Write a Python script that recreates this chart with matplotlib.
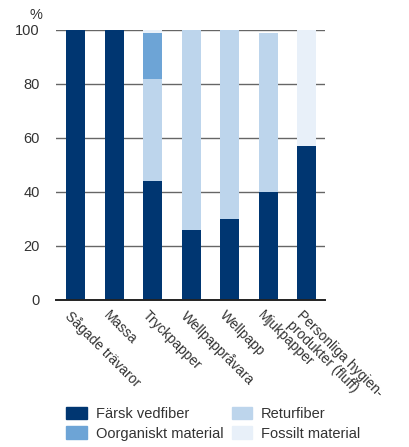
import numpy as np
import matplotlib.pyplot as plt
from matplotlib.patches import Patch

categories = ['Sågade trävaror', 'Massa', 'Tryckpapper', 'Wellpappråvara',
              'Wellpapp', 'Mjukpapper', 'Personliga hygien-\nprodukter (fluff)']
farsk = [100, 100, 44, 26, 30, 40, 57]
retur = [0, 0, 38, 74, 70, 59, 0]
oorganiskt = [0, 0, 17, 0, 0, 0, 0]
fossilt = [0, 0, 1, 0, 0, 0, 43]

series = [
    ('Färsk vedfiber', farsk, '#003671'),
    ('Returfiber', retur, '#bdd5ec'),
    ('Oorganiskt material', oorganiskt, '#6da4d6'),
    ('Fossilt material', fossilt, '#e8f0f9'),
]

plt.rcParams['font.family'] = ['Liberation Sans', 'DejaVu Sans']
text_col = '#333333'

fig = plt.figure(figsize=(4.10, 4.47), dpi=100)
ax = fig.add_axes([0.137, 0.329, 0.656, 0.604])

x = np.arange(len(categories))
bottom = np.zeros(len(categories))
for name, vals, col in series:
    ax.bar(x, vals, width=0.49, bottom=bottom, color=col, zorder=3)
    bottom += np.array(vals)

ax.set_xlim(-0.506, 6.48)
ax.set_ylim(0, 100)
ax.set_yticks([0, 20, 40, 60, 80, 100])
ax.yaxis.grid(True, color='#666666', linewidth=1.0, zorder=1)
ax.tick_params(axis='y', length=0, pad=12, labelsize=10.5, labelcolor=text_col)
ax.tick_params(axis='x', length=0)
for s in ['top', 'right', 'left']:
    ax.spines[s].set_visible(False)
ax.spines['bottom'].set_color('#222222')
ax.spines['bottom'].set_linewidth(1.4)
ax.spines['bottom'].set_zorder(4)
ax.set_xticks(x)
ax.set_xticklabels([])
for xi, lab in zip(x, categories):
    ax.text(xi - 0.08, -3, lab, rotation=-45, rotation_mode='anchor',
            ha='left', va='top', fontsize=10, color=text_col,
            linespacing=1.0)

fig.text(0.072, 0.958, '%', fontsize=10.5, color=text_col)

handles = [Patch(color=c, label=n) for n, v, c in
           [series[0], series[2], series[1], series[3]]]
fig.legend(handles=handles, loc='lower left', bbox_to_anchor=(0.13, -0.015),
           ncol=2, frameon=False, fontsize=10.5, handlelength=1.4,
           handleheight=0.9, handletextpad=0.6, columnspacing=0.6,
           labelspacing=0.35, labelcolor=text_col)

fig.savefig('out.png', dpi=100)
